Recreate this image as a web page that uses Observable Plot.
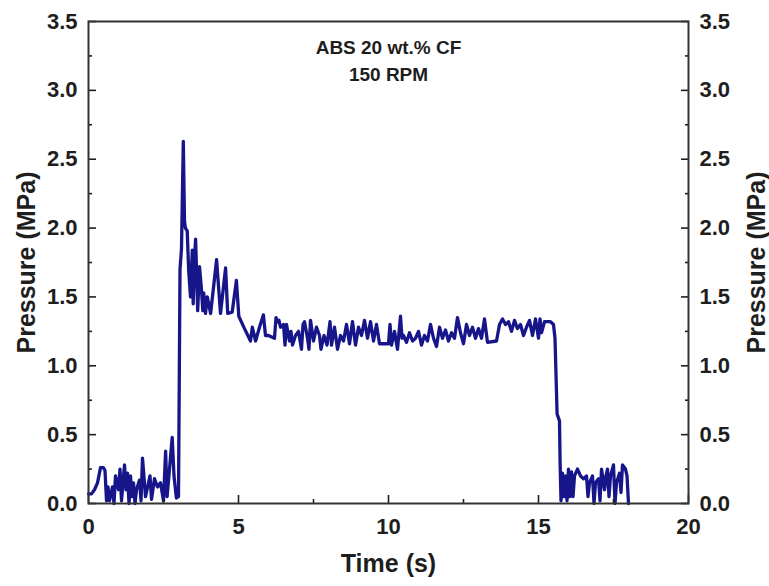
<!DOCTYPE html>
<html>
<head>
<meta charset="utf-8">
<script src="https://cdn.jsdelivr.net/npm/d3@7"></script>
<script src="https://cdn.jsdelivr.net/npm/@observablehq/plot@0.6"></script>
<style>
  html, body { margin: 0; padding: 0; background: #fff; }
  #chart { width: 769px; height: 586px; }
</style>
</head>
<body>
<div id="chart"></div>
<script>
// Time (s)
const time = [
  0, 0.1, 0.2, 0.3, 0.4, 0.5, 0.55, 0.6, 0.65, 0.7, 0.8, 0.85, 0.9, 1.0, 1.05, 1.1, 1.2, 1.25, 1.3, 1.35,
  1.4, 1.45, 1.5, 1.55, 1.6, 1.7, 1.75, 1.8, 1.9, 2.0, 2.05, 2.1, 2.2, 2.3, 2.4, 2.5, 2.57, 2.62, 2.7, 2.79,
  2.85, 2.93, 3.0, 3.05, 3.1, 3.16, 3.2, 3.23, 3.29, 3.34, 3.4, 3.46, 3.49, 3.53, 3.57, 3.64, 3.7, 3.76, 3.81, 3.84,
  3.9, 3.96, 4.07, 4.27, 4.4, 4.57, 4.64, 4.79, 4.93, 5.01, 5.2, 5.4, 5.46, 5.57, 5.7, 5.83, 5.9, 6.0, 6.2, 6.25,
  6.3, 6.35, 6.4, 6.5, 6.55, 6.6, 6.7, 6.75, 6.8, 6.9, 7.0, 7.1, 7.15, 7.2, 7.3, 7.35, 7.4, 7.5, 7.6, 7.7,
  7.75, 7.85, 7.95, 8.05, 8.1, 8.2, 8.3, 8.4, 8.5, 8.6, 8.7, 8.8, 8.9, 9.0, 9.1, 9.2, 9.3, 9.4, 9.5, 9.6,
  9.7, 10.0, 10.05, 10.1, 10.2, 10.3, 10.4, 10.45, 10.5, 10.6, 10.7, 10.8, 10.9, 11.0, 11.1, 11.2, 11.3, 11.4, 11.5, 11.6,
  11.7, 11.8, 11.9, 12.0, 12.1, 12.2, 12.3, 12.4, 12.5, 12.6, 12.7, 12.8, 12.9, 13.0, 13.1, 13.2, 13.3, 13.6, 13.7, 13.8,
  13.9, 14.0, 14.1, 14.2, 14.3, 14.4, 14.5, 14.6, 14.7, 14.8, 14.9, 15.0, 15.05, 15.1, 15.2, 15.3, 15.4, 15.5, 15.55, 15.62,
  15.7, 15.72, 15.75, 15.8, 15.85, 15.9, 15.95, 16.0, 16.05, 16.1, 16.15, 16.2, 16.3, 16.4, 16.5, 16.6, 16.65, 16.7, 16.8, 16.85,
  16.9, 17.0, 17.05, 17.1, 17.2, 17.25, 17.3, 17.35, 17.4, 17.5, 17.55, 17.6, 17.7, 17.75, 17.8, 17.9, 17.95, 18.0
];
// Pressure (MPa)
const pressure = [
  0.07, 0.07, 0.1, 0.15, 0.26, 0.26, 0.24, 0.02, 0.12, 0.02, 0.12, 0.0, 0.2, 0.1, 0.25, 0.02, 0.28, 0.1, 0.22, 0.0,
  0.2, 0.05, 0.15, 0.0, 0.1, 0.17, 0.02, 0.33, 0.05, 0.15, 0.2, 0.03, 0.18, 0.12, 0.15, 0.02, 0.38, 0.05, 0.25, 0.48,
  0.2, 0.04, 0.05, 1.7, 1.85, 2.63, 2.05, 2.0, 1.98, 1.69, 1.5, 1.84, 1.45, 1.76, 1.92, 1.4, 1.72, 1.57, 1.4, 1.53,
  1.38, 1.5, 1.38, 1.77, 1.38, 1.71, 1.38, 1.39, 1.62, 1.36, 1.27, 1.18, 1.28, 1.18, 1.28, 1.37, 1.22, 1.22, 1.2, 1.35,
  1.32, 1.33, 1.28, 1.3, 1.15, 1.3, 1.18, 1.25, 1.15, 1.22, 1.25, 1.12, 1.3, 1.32, 1.2, 1.12, 1.33, 1.18, 1.28, 1.22,
  1.12, 1.22, 1.15, 1.32, 1.15, 1.28, 1.12, 1.22, 1.18, 1.3, 1.16, 1.32, 1.15, 1.28, 1.22, 1.33, 1.2, 1.32, 1.18, 1.3,
  1.16, 1.16, 1.3, 1.15, 1.25, 1.12, 1.36, 1.2, 1.22, 1.17, 1.24, 1.18, 1.2, 1.25, 1.15, 1.22, 1.18, 1.3, 1.2, 1.14,
  1.28, 1.2, 1.26, 1.18, 1.24, 1.2, 1.35, 1.24, 1.16, 1.3, 1.22, 1.28, 1.2, 1.27, 1.2, 1.34, 1.17, 1.18, 1.3, 1.34,
  1.3, 1.32, 1.25, 1.33, 1.27, 1.3, 1.22, 1.28, 1.33, 1.22, 1.34, 1.2, 1.34, 1.24, 1.32, 1.32, 1.32, 1.3, 1.2, 0.65,
  0.6, 0.3, 0.02, 0.22, 0.05, 0.2, 0.02, 0.25, 0.05, 0.23, 0.05, 0.2, 0.25, 0.2, 0.18, 0.2, 0.05, 0.15, 0.2, 0.0,
  0.15, 0.18, 0.02, 0.25, 0.1, 0.2, 0.25, 0.05, 0.2, 0.28, 0.0, 0.15, 0.22, 0.08, 0.28, 0.25, 0.2, 0.0
];
const xMajor = [0, 5, 10, 15, 20];
const xMinor = [2.5, 7.5, 12.5, 17.5];
const yMajor = [0, 0.5, 1.0, 1.5, 2.0, 2.5, 3.0, 3.5];
const yMinor = [0.25, 0.75, 1.25, 1.75, 2.25, 2.75, 3.25];
const titleLines = ["ABS 20 wt.% CF", "150 RPM"];
const xLabel = "Time (s)";
const yLabel = "Pressure (MPa)";

const data = time.map((t, i) => ({t, p: pressure[i]}));
const fmt = d3.format(".1f");

const chart = Plot.plot({
  width: 769,
  height: 586,
  marginLeft: 88,
  marginRight: 81,
  marginTop: 21,
  marginBottom: 83,
  style: {fontFamily: "'Liberation Sans', Arial, sans-serif", fontWeight: "bold", fontSize: "22px", color: "#1e1e1e", background: "#fff"},
  x: {domain: [0, 20]},
  y: {domain: [0, 3.5]},
  marks: [
    Plot.line(data, {x: "t", y: "p", stroke: "#16168a", strokeWidth: 3.3, strokeLinejoin: "round"}),
    Plot.axisX({ticks: xMajor, tickSize: -8, tickPadding: 23, tickFormat: d => String(d), strokeWidth: 1.6, fontSize: 22, label: null}),
    Plot.axisX({ticks: xMinor, tickSize: -4, tickFormat: () => "", strokeWidth: 1.6, label: null}),
    Plot.axisY({anchor: "left", ticks: yMajor, tickSize: -8, tickPadding: 19, tickFormat: fmt, strokeWidth: 1.6, fontSize: 22, label: null}),
    Plot.axisY({anchor: "left", ticks: yMinor, tickSize: -4, tickFormat: () => "", strokeWidth: 1.6, label: null}),
    Plot.axisY({anchor: "right", ticks: yMajor, tickSize: -8, tickPadding: 19, tickFormat: fmt, strokeWidth: 1.6, fontSize: 22, label: null}),
    Plot.axisY({anchor: "right", ticks: yMinor, tickSize: -4, tickFormat: () => "", strokeWidth: 1.6, label: null}),
    Plot.frame({stroke: "#333", strokeWidth: 2}),
    Plot.text([xLabel], {frameAnchor: "bottom", dy: 68, fontSize: 25, fontWeight: "bold", fill: "#1e1e1e"}),
    Plot.text([yLabel], {frameAnchor: "left", textAnchor: "middle", dx: -62, rotate: -90, fontSize: 25, fontWeight: "bold", fill: "#1e1e1e"}),
    Plot.text([yLabel], {frameAnchor: "right", textAnchor: "middle", dx: 68, rotate: -90, fontSize: 25, fontWeight: "bold", fill: "#1e1e1e"}),
    Plot.text([titleLines.join("\n")], {frameAnchor: "top", dy: 14, lineAnchor: "top", lineHeight: 1.4, fontSize: 19, fontWeight: "bold", fill: "#1e1e1e"})
  ]
});
document.getElementById("chart").appendChild(chart);
</script>
</body>
</html>
